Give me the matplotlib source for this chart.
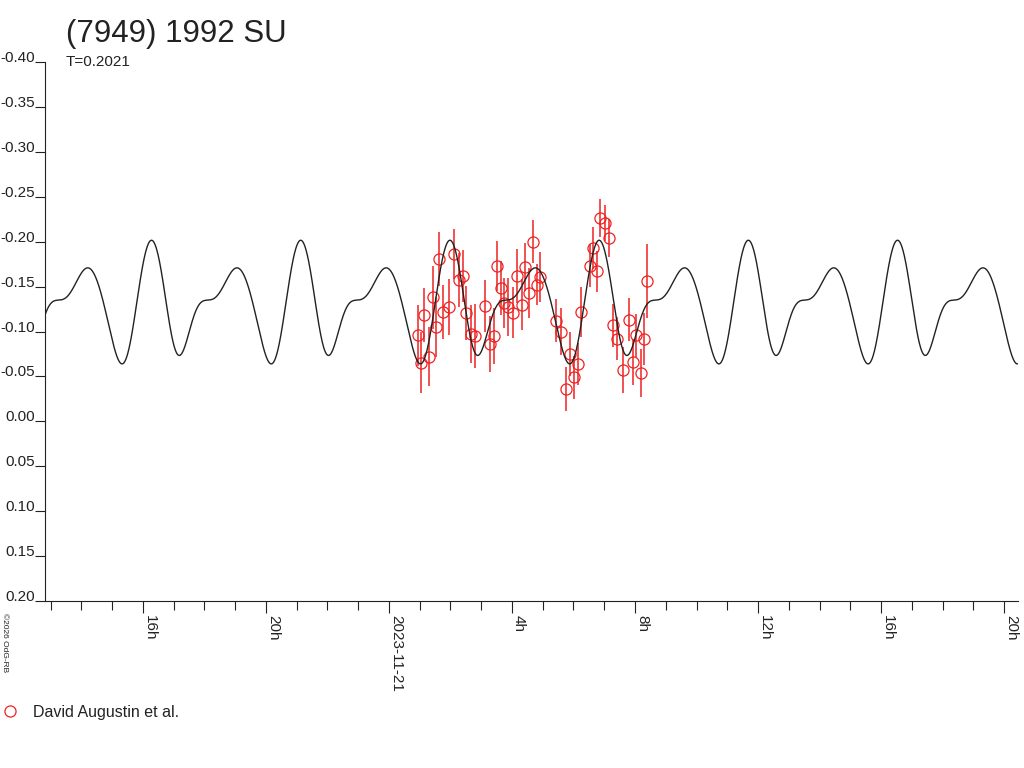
import numpy as np
import matplotlib
matplotlib.use("Agg")
import matplotlib.pyplot as plt
from matplotlib.lines import Line2D

plt.rcParams["font.family"] = ["Liberation Sans", "DejaVu Sans"]

# ── Data ─────────────────────────────────────────────────────────────────────
# time in hours relative to 2023-11-21 00:00 UT, relative magnitude
obs_hours = [
    0.961, 1.058, 1.156, 1.318, 1.448, 1.545, 1.643, 1.773, 1.968, 2.130,
    2.292, 2.422, 2.519, 2.682, 2.812, 3.136, 3.299, 3.429, 3.526, 3.656,
    3.753, 3.883, 4.045, 4.175, 4.338, 4.435, 4.565, 4.695, 4.825, 4.922,
    5.442, 5.604, 5.766, 5.896, 6.026, 6.156, 6.253, 6.545, 6.643, 6.773,
    6.870, 7.032, 7.162, 7.292, 7.422, 7.617, 7.812, 7.942, 8.039, 8.201,
    8.299, 8.396,
]
obs_mag = [
    -0.096, -0.065, -0.118, -0.072, -0.138, -0.105, -0.181, -0.122, -0.127, -0.186,
    -0.157, -0.162, -0.121, -0.097, -0.095, -0.128, -0.086, -0.095, -0.173, -0.148,
    -0.132, -0.127, -0.121, -0.162, -0.130, -0.172, -0.143, -0.200, -0.152, -0.161,
    -0.112, -0.100, -0.036, -0.075, -0.049, -0.064, -0.122, -0.173, -0.193, -0.167,
    -0.226, -0.221, -0.204, -0.107, -0.092, -0.057, -0.113, -0.066, -0.096, -0.054,
    -0.092, -0.156,
]
obs_err = [
    0.034, 0.034, 0.030, 0.033, 0.035, 0.033, 0.030, 0.030, 0.031, 0.028,
    0.030, 0.029, 0.030, 0.032, 0.036, 0.029, 0.031, 0.031, 0.028, 0.030,
    0.028, 0.032, 0.028, 0.030, 0.028, 0.027, 0.028, 0.024, 0.023, 0.028,
    0.024, 0.026, 0.024, 0.024, 0.024, 0.023, 0.028, 0.024, 0.023, 0.023,
    0.021, 0.020, 0.021, 0.024, 0.024, 0.026, 0.024, 0.026, 0.024, 0.027,
    0.029, 0.041,
]

# model lightcurve read over one rotation (phase 0 = main maximum)
period_days = 0.2021
epoch_hours = -7.675
curve_phase = [
    0.0, 0.0335, 0.0558, 0.0781, 0.1005, 0.1228, 0.1563, 0.1831, 0.2121, 0.2344,
    0.2567, 0.2791, 0.3014, 0.3349, 0.3684, 0.4019, 0.4354, 0.4689, 0.5023, 0.5358,
    0.5582, 0.5917, 0.6251, 0.6586, 0.6810, 0.7033, 0.7256, 0.7479, 0.7747, 0.7971,
    0.8261, 0.8484, 0.8707, 0.8931, 0.9154, 0.9377, 0.9600, 0.9824,
]
curve_mag = [
    -0.1993, -0.1889, -0.1704, -0.1444, -0.1184, -0.0962, -0.0795, -0.0750, -0.0813, -0.0925,
    -0.1073, -0.1203, -0.1277, -0.1333, -0.1351, -0.1362, -0.1407, -0.1481, -0.1611, -0.1685,
    -0.1704, -0.1667, -0.1574, -0.1407, -0.1240, -0.1073, -0.0906, -0.0776, -0.0683, -0.0657,
    -0.0721, -0.0850, -0.1073, -0.1333, -0.1593, -0.1797, -0.1926, -0.1982,
]
n_harmonics = 6

x_major = [-8, -4, 0, 4, 8, 12, 16, 20]
x_major_labels = ["16h", "20h", "2023-11-21", "4h", "8h", "12h", "16h", "20h"]
x_minor = list(range(-11, 21))
y_ticks = [-0.40, -0.35, -0.30, -0.25, -0.20, -0.15, -0.10, -0.05,
           0.00, 0.05, 0.10, 0.15, 0.20]
y_labels = ["-0.40", "-0.35", "-0.30", "-0.25", "-0.20", "-0.15", "-0.10",
            "-0.05", "0.00", "0.05", "0.10", "0.15", "0.20"]
x_range = (-11.18, 20.45)

title = "(7949) 1992 SU"
subtitle = "T=0.2021"
observer = "David Augustin et al."
credit = "\u00a92026 OdG-RB"

INK = "#222222"
RED = "#ee2222"


# ── Fourier model of the lightcurve ──────────────────────────────────────────
def _design(phase):
    cols = [np.ones_like(phase)]
    for k in range(1, n_harmonics + 1):
        cols.append(np.cos(2 * np.pi * k * phase))
        cols.append(np.sin(2 * np.pi * k * phase))
    return np.column_stack(cols)


coef, *_ = np.linalg.lstsq(_design(np.array(curve_phase)), np.array(curve_mag), rcond=None)
period_hours = period_days * 24
model_t = np.linspace(*x_range, 3000)
model_mag = _design(((model_t - epoch_hours) / period_hours) % 1.0) @ coef


# ── Figure ───────────────────────────────────────────────────────────────────
W, H = 1024, 768
fig = plt.figure(figsize=(W / 100, H / 100), dpi=100)
fig.patch.set_facecolor("white")
ax = fig.add_axes([45 / W, (H - 601) / H, 973 / W, 539 / H])

ax.errorbar(
    obs_hours, obs_mag, yerr=obs_err, fmt="o", ms=8, mfc="none", mec=RED,
    mew=0.9, ecolor=RED, elinewidth=1.1, capsize=0, zorder=2,
)
ax.plot(model_t, model_mag, color=INK, lw=1.0, zorder=3)

ax.set_xlim(*x_range)
ax.set_ylim(0.20, -0.40)

ax.spines["top"].set_visible(False)
ax.spines["right"].set_visible(False)
for side in ("left", "bottom"):
    ax.spines[side].set_color(INK)
    ax.spines[side].set_linewidth(0.8)

ax.set_xticks(x_major, x_major_labels, rotation=-90, ha="left", va="top")
ax.set_xticks(x_minor, minor=True)
ax.set_yticks(y_ticks, y_labels, va="baseline")
ax.tick_params(axis="x", which="major", direction="out", length=8.6, width=0.8,
               color=INK, labelcolor=INK, labelsize=11, pad=1.5)
ax.tick_params(axis="x", which="minor", direction="out", length=6.5, width=0.8, color=INK)
ax.tick_params(axis="y", direction="out", length=7.2, width=0.8,
               color=INK, labelcolor=INK, labelsize=11, pad=0)

fig.text(66 / W, 1 - 42 / H, title, fontsize=22.5, color=INK, va="baseline")
fig.text(66 / W, 1 - 66 / H, subtitle, fontsize=11, color=INK, va="baseline")
fig.text(1 / W, 1 - 613 / H, credit, fontsize=6, color=INK, rotation=-90,
         ha="left", va="top")

handle = Line2D([], [], ls="none", marker="o", ms=8, mfc="none", mec=RED, mew=0.9)
fig.legend([handle], [observer], loc="center left", bbox_to_anchor=(0, 1 - 712 / H),
           frameon=False, fontsize=11.5, labelcolor=INK, borderpad=0, borderaxespad=0,
           handlelength=1.2, handletextpad=0.85)

fig.savefig("out.png", dpi=100, facecolor="white")
